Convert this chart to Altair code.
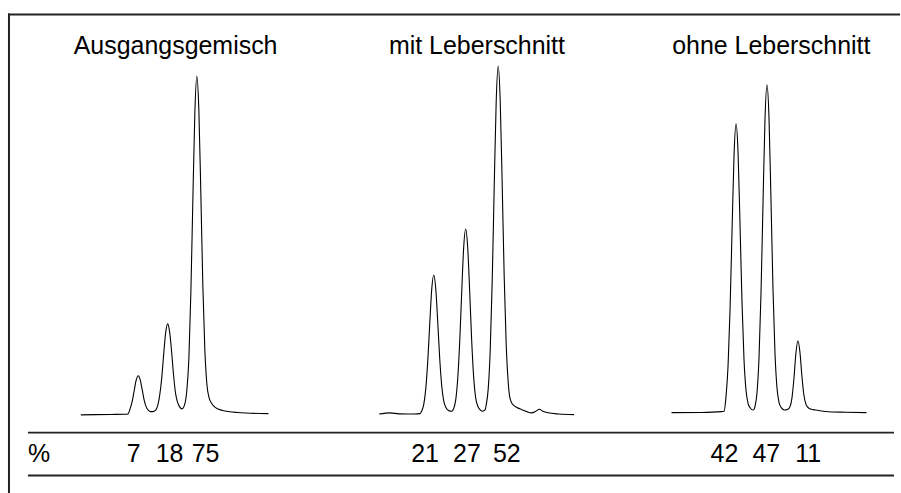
import altair as alt
import pandas as pd

# ---- data (time in arbitrary min, signal in % of scale) ----
titles = ["Ausgangsgemisch", "mit Leberschnitt", "ohne Leberschnitt"]
title_t = [9.5, 9.8, 10.0]

percent_labels = [["7", "18", "75"], ["21", "27", "52"], ["42", "47", "11"]]
percent_t = [[5.3, 8.9, 12.5], [4.6, 8.8, 12.8], [5.3, 9.5, 13.7]]

trace_ausgang = [
    (0, -0.3), (3.0, -0.2), (4.5, -0.15), (4.75, 0.0), (4.95, 1.3), (5.15, 3.1),
    (5.35, 5.8), (5.55, 8.4), (5.75, 9.5), (5.95, 8.5), (6.15, 6.0), (6.35, 3.4),
    (6.55, 1.7), (6.75, 0.9), (7.0, 0.5), (7.2, 0.5), (7.5, 0.9), (7.7, 2.0),
    (7.9, 4.5), (8.1, 8.7), (8.3, 14.7), (8.5, 20.2), (8.7, 22.5), (8.9, 20.5),
    (9.1, 15.5), (9.3, 9.5), (9.5, 5.0), (9.7, 2.8), (9.9, 1.7), (10.15, 1.2),
    (10.43, 2.5), (10.63, 6.0), (10.83, 13.8), (11.03, 30.4), (11.23, 53.7),
    (11.43, 75.5), (11.63, 84.5), (11.83, 76.0), (12.03, 55.0), (12.23, 32.0),
    (12.43, 16.0), (12.63, 7.5), (12.85, 4.0), (13.1, 2.6), (13.5, 1.5),
    (14.2, 0.8), (15.7, 0.3), (18.8, 0.0),
]

trace_mit = [
    (0, -0.1), (1.1, 0.2), (2.0, -0.05), (3.5, -0.1), (4.1, 0.0), (4.27, 0.7),
    (4.47, 2.3), (4.67, 6.2), (4.87, 13.1), (5.07, 22.5), (5.27, 31.2), (5.47, 34.75),
    (5.67, 31.4), (5.87, 23.0), (6.07, 13.8), (6.27, 7.0), (6.47, 3.2), (6.7, 1.5),
    (6.95, 0.8), (7.27, 0.6), (7.47, 1.3), (7.67, 3.4), (7.87, 8.6), (8.07, 17.8),
    (8.27, 30.2), (8.47, 41.6), (8.67, 46.25), (8.87, 41.8), (9.07, 30.8), (9.27, 18.5),
    (9.47, 9.2), (9.67, 4.0), (9.9, 1.8), (10.1, 1.0), (10.37, 0.6), (10.63, 1.0),
    (10.73, 2.2), (10.93, 6.2), (11.13, 15.8), (11.33, 33.2), (11.53, 56.7),
    (11.73, 78.2), (11.93, 87.1), (12.13, 78.5), (12.33, 57.5), (12.53, 34.5),
    (12.73, 17.5), (12.93, 8.0), (13.1, 4.0), (13.35, 2.4), (13.77, 1.6), (14.3, 1.0),
    (14.8, 0.5), (15.27, 0.2), (15.7, 0.6), (16.05, 1.1), (16.4, 0.6), (16.93, 0.2),
    (18.0, -0.1), (19.53, -0.25),
]

trace_ohne = [
    (0, 0.25), (3.0, 0.3), (5.0, 0.5), (5.27, 0.6), (5.47, 4.5), (5.67, 12.1),
    (5.87, 26.3), (6.07, 46.2), (6.27, 65.0), (6.47, 72.6), (6.67, 65.3), (6.87, 47.0),
    (7.07, 27.5), (7.27, 13.3), (7.47, 5.8), (7.67, 2.6), (7.9, 1.4), (8.05, 1.0),
    (8.2, 0.9), (8.37, 1.8), (8.57, 5.3), (8.77, 14.0), (8.97, 30.2), (9.17, 52.7),
    (9.37, 73.8), (9.57, 82.4), (9.77, 74.2), (9.97, 53.5), (10.17, 31.3), (10.37, 15.2),
    (10.57, 6.5), (10.77, 2.9), (11.0, 1.5), (11.32, 0.9), (11.67, 1.1), (11.87, 1.7),
    (12.07, 3.9), (12.27, 8.8), (12.47, 15.2), (12.67, 18.25), (12.87, 15.4),
    (13.07, 9.4), (13.27, 4.6), (13.47, 2.4), (13.7, 1.5), (14.0, 1.1), (14.44, 0.9),
    (15.2, 0.6), (16.1, 0.4), (17.5, 0.35), (19.54, 0.25),
]

traces = [trace_ausgang, trace_mit, trace_ohne]
x_domains = [[-7.3, 22.5], [-7.4, 22.4], [-6.9, 22.9]]
y_domain = [-20, 100.25]

FONT = "Liberation Sans"
PW, PH = 298, 481
TOTAL_W = 3 * PW
LINE_COL = "#222222"


def panel(i):
    xs = alt.Scale(domain=x_domains[i], nice=False, zero=False)
    ys = alt.Scale(domain=y_domain, nice=False, zero=False)
    df = pd.DataFrame(traces[i], columns=["t", "s"])
    line = alt.Chart(df).mark_line(color="black", strokeWidth=1.1, interpolate="monotone").encode(
        x=alt.X("t:Q", scale=xs, axis=None),
        y=alt.Y("s:Q", scale=ys, axis=None),
    )
    tdf = pd.DataFrame({"t": [title_t[i]], "label": [titles[i]]})
    title = alt.Chart(tdf).mark_text(font=FONT, fontSize=25, color="black", baseline="middle", align="center").encode(
        x=alt.X("t:Q", scale=xs, axis=None), y=alt.value(33), text="label:N"
    )
    pdf = pd.DataFrame({"t": percent_t[i], "label": percent_labels[i]})
    pct = alt.Chart(pdf).mark_text(font=FONT, fontSize=25, color="black", baseline="middle", align="center").encode(
        x=alt.X("t:Q", scale=xs, axis=None), y=alt.value(441), text="label:N"
    )
    layers = [line, title, pct]
    if i == 0:
        one = pd.DataFrame({"a": [0]})
        for yy in (420, 463):
            layers.append(alt.Chart(one).mark_rule(color=LINE_COL, strokeWidth=1.8).encode(
                x=alt.value(20), x2=alt.value(TOTAL_W - 6), y=alt.value(yy)))
        layers.append(alt.Chart(one).mark_rule(color=LINE_COL, strokeWidth=2).encode(
            x=alt.value(0), x2=alt.value(TOTAL_W), y=alt.value(1)))
        layers.append(alt.Chart(one).mark_rule(color=LINE_COL, strokeWidth=2).encode(
            x=alt.value(1), y=alt.value(0), y2=alt.value(PH)))
        layers.append(alt.Chart(pd.DataFrame({"label": ["%"]})).mark_text(
            font=FONT, fontSize=25, color="black", baseline="middle", align="left").encode(
            x=alt.value(20), y=alt.value(441), text="label:N"))
    return alt.layer(*layers).properties(width=PW, height=PH)


chart = alt.hconcat(panel(0), panel(1), panel(2), spacing=0, bounds="flush").properties(
    padding={"left": 7, "top": 12, "right": 0, "bottom": 0},
    background="white",
).configure_view(strokeWidth=0, stroke="transparent")

chart.save("out.html", embed_options={"renderer": "svg", "actions": False})
